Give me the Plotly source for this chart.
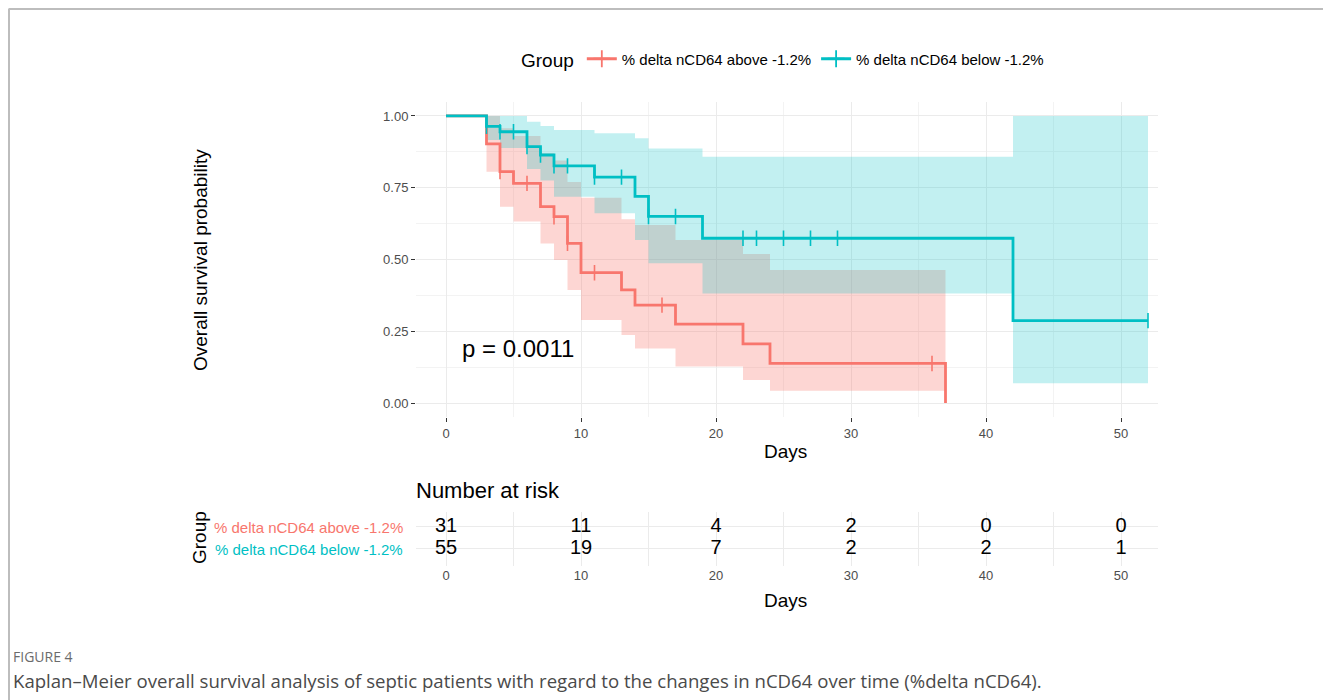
import plotly.graph_objects as go

# The page body adds an 8 px margin, so the figure is drawn 8 px smaller
# and every reference pixel position is shifted by that offset.
OFF = 8
W, H = 1331 - OFF, 700 - OFF

# ---------------- data ----------------
red_name = "% delta nCD64 above -1.2%"
teal_name = "% delta nCD64 below -1.2%"

red_time = [0, 3, 4, 5, 7, 8, 9, 10, 13, 14, 17, 22, 24, 37]
red_surv = [1.0, 0.903, 0.806, 0.765, 0.684, 0.649, 0.556, 0.454, 0.394, 0.341, 0.275, 0.206, 0.138, 0.0]
red_lower = [1.0, 0.806, 0.684, 0.632, 0.556, 0.498, 0.394, 0.289, 0.237, 0.190, 0.127, 0.080, 0.043]
red_upper = [1.0, 1.0, 0.957, 0.930, 0.870, 0.845, 0.770, 0.715, 0.640, 0.620, 0.568, 0.519, 0.463]
red_band_end = 37
red_cens_time = [4, 6, 8, 9, 11, 16, 36]
red_cens_surv = [0.806, 0.765, 0.649, 0.556, 0.454, 0.341, 0.138]

teal_time = [0, 3, 4, 6, 7, 8, 11, 14, 15, 19, 42, 52]
teal_surv = [1.0, 0.964, 0.945, 0.893, 0.864, 0.826, 0.787, 0.720, 0.650, 0.574, 0.287, 0.287]
teal_lower = [1.0, 0.916, 0.888, 0.815, 0.775, 0.719, 0.661, 0.568, 0.487, 0.382, 0.069]
teal_upper = [1.0, 1.0, 1.0, 0.980, 0.965, 0.951, 0.940, 0.922, 0.887, 0.858, 1.0]
teal_band_end = 52
teal_cens_time = [3, 4, 5, 6, 7, 8, 9, 11, 13, 15, 17, 22, 23, 25, 27, 29, 52]
teal_cens_surv = [0.964, 0.945, 0.945, 0.893, 0.864, 0.826, 0.826, 0.787, 0.787, 0.650, 0.650,
                  0.574, 0.574, 0.574, 0.574, 0.574, 0.287]

x_ticks = [0, 10, 20, 30, 40, 50]
y_ticks = [0, 0.25, 0.5, 0.75, 1.0]
y_ticklabels = ["0.00", "0.25", "0.50", "0.75", "1.00"]

risk_times = [0, 10, 20, 30, 40, 50]
risk_red = [31, 11, 4, 2, 0, 0]
risk_teal = [55, 19, 7, 2, 2, 1]

p_text = "p = 0.0011"
caption_label = "FIGURE 4"
caption_text = ("Kaplan\u2013Meier overall survival analysis of septic patients with regard to the "
                "changes in nCD64 over time (%delta nCD64).")

RED = "#F8766D"
TEAL = "#00BFC4"
RED_FILL = "rgba(248,118,109,0.30)"
TEAL_FILL = "rgba(0,191,196,0.24)"
GRID = "#EBEBEB"
MINOR = "#F3F3F3"
TICKC = "#4D4D4D"
FONT = "Liberation Sans, Arial, sans-serif"
CAPFONT = "Open Sans, sans-serif"


def band_x(times, vals, end):
    return list(times[:len(vals)]) + [end]


def band_y(vals):
    return list(vals) + [vals[-1]]


def px(x):
    return (x - OFF) / W


def py(y):
    return 1 - (y - OFF) / H


X0_PX, X10_PX = 446, 581
ppu = (X10_PX - X0_PX) / 10.0
PL, PR = 416, 1158
xr = [(PL - X0_PX) / ppu, (PR - X0_PX) / ppu]

fig = go.Figure()

# confidence bands
for times, lo, up, end, fill in [
    (red_time, red_lower, red_upper, red_band_end, RED_FILL),
    (teal_time, teal_lower, teal_upper, teal_band_end, TEAL_FILL),
]:
    fig.add_trace(go.Scatter(x=band_x(times, lo, end), y=band_y(lo), mode="lines",
                             line=dict(width=0, shape="hv"), showlegend=False,
                             hoverinfo="skip", xaxis="x", yaxis="y"))
    fig.add_trace(go.Scatter(x=band_x(times, up, end), y=band_y(up), mode="lines",
                             line=dict(width=0, shape="hv"), fill="tonexty", fillcolor=fill,
                             showlegend=False, hoverinfo="skip", xaxis="x", yaxis="y"))

# survival curves
for times, surv, col in [(red_time, red_surv, RED), (teal_time, teal_surv, TEAL)]:
    fig.add_trace(go.Scatter(x=times, y=surv, mode="lines",
                             line=dict(color=col, width=2.8, shape="hv"),
                             showlegend=False, xaxis="x", yaxis="y"))

# censor marks
for ct, cs, col in [(red_cens_time, red_cens_surv, RED), (teal_cens_time, teal_cens_surv, TEAL)]:
    fig.add_trace(go.Scatter(x=ct, y=cs, mode="markers",
                             marker=dict(symbol="line-ns-open", size=11, color=col,
                                         line=dict(width=1.6, color=col)),
                             showlegend=False, xaxis="x", yaxis="y"))

# legend entries
for name, col in [(red_name, RED), (teal_name, TEAL)]:
    fig.add_trace(go.Scatter(x=[None], y=[None], mode="lines+markers", name=name,
                             line=dict(color=col, width=2.8),
                             marker=dict(symbol="cross-thin-open", size=12, color=col,
                                         line=dict(width=1.8, color=col)),
                             xaxis="x", yaxis="y"))

# risk table numbers
fig.add_trace(go.Scatter(x=risk_times, y=[2] * len(risk_times), mode="text",
                         text=[str(v) for v in risk_red],
                         textfont=dict(size=20, color="black", family=FONT),
                         showlegend=False, xaxis="x2", yaxis="y2"))
fig.add_trace(go.Scatter(x=risk_times, y=[1] * len(risk_times), mode="text",
                         text=[str(v) for v in risk_teal],
                         textfont=dict(size=20, color="black", family=FONT),
                         showlegend=False, xaxis="x2", yaxis="y2"))

tickfont = dict(size=13, color=TICKC, family=FONT)

fig.update_layout(
    width=W, height=H,
    margin=dict(l=0, r=0, t=0, b=0),
    paper_bgcolor="white", plot_bgcolor="white",
    font=dict(family=FONT, color="black"),
    xaxis=dict(domain=[px(PL), px(PR)], range=xr, tickvals=x_ticks, anchor="y",
               showline=False, zeroline=False, ticks="outside", ticklen=4,
               tickcolor="#333333", tickfont=tickfont, gridcolor=GRID,
               minor=dict(dtick=5, tick0=0, showgrid=True, gridcolor=MINOR, ticks="")),
    yaxis=dict(domain=[py(417.4), py(101.6)], range=[-0.05, 1.05], tickvals=y_ticks,
               ticktext=y_ticklabels, anchor="x",
               showline=False, zeroline=False, ticks="outside", ticklen=4,
               tickcolor="#333333", tickfont=tickfont, gridcolor=GRID,
               minor=dict(dtick=0.125, tick0=0, showgrid=True, gridcolor=MINOR, ticks="")),
    xaxis2=dict(domain=[px(PL), px(PR)], range=xr, tickvals=x_ticks, anchor="y2",
                showline=False, zeroline=False, ticks="", tickfont=tickfont,
                gridcolor=GRID,
                minor=dict(dtick=5, tick0=0, showgrid=True, gridcolor=GRID, ticks="")),
    yaxis2=dict(domain=[py(566), py(512)], range=[0.227, 2.68], tickvals=[1, 2],
                showticklabels=False, anchor="x2", showline=False, zeroline=False,
                ticks="", gridcolor=GRID),
    legend=dict(orientation="h", x=px(784), xanchor="center", y=py(60), yanchor="middle",
                traceorder="normal",
                title=dict(text="Group", font=dict(size=19, color="black", family=FONT)),
                font=dict(size=15, color="black", family=FONT),
                bgcolor="rgba(0,0,0,0)"),
    showlegend=True,
)


def note(text, x, y, size, color="black", family=FONT, xanchor="center", angle=0,
         xref="paper", yref="paper"):
    return dict(text=text, x=x, y=y, xref=xref, yref=yref, xanchor=xanchor,
                yanchor="middle", textangle=angle, showarrow=False,
                font=dict(size=size, color=color, family=family))


ann = [
    note("Overall survival probability", px(200), py(260), 19, angle=-90),
    note("Days", px(785), py(452), 19),
    note(p_text, 1.0, 0.19, 24, xanchor="left", xref="x", yref="y"),
    note("Number at risk", px(414), py(490), 22, xanchor="left"),
    note("Group", px(199), py(538), 19, angle=-90),
    note(red_name, px(405), py(527), 15, color=RED, xanchor="right"),
    note(teal_name, px(405), py(549), 15, color=TEAL, xanchor="right"),
    note("Days", px(785), py(600), 19),
    note(caption_label, px(11), py(656), 14, color="#6b6b6b", family=CAPFONT, xanchor="left"),
    note(caption_text, px(11), py(680), 18.6, color="#4a4a4a", family=CAPFONT, xanchor="left"),
]
fig.update_layout(annotations=ann)

# frame of the figure box (top and left border)
fig.update_layout(shapes=[
    dict(type="line", xref="paper", yref="paper", x0=px(8.5), x1=1, y0=py(9), y1=py(9),
         line=dict(color="#BDBDBD", width=2)),
    dict(type="line", xref="paper", yref="paper", x0=px(9), x1=px(9), y0=py(9), y1=0,
         line=dict(color="#BDBDBD", width=2)),
])

fig.write_html("out.html")
